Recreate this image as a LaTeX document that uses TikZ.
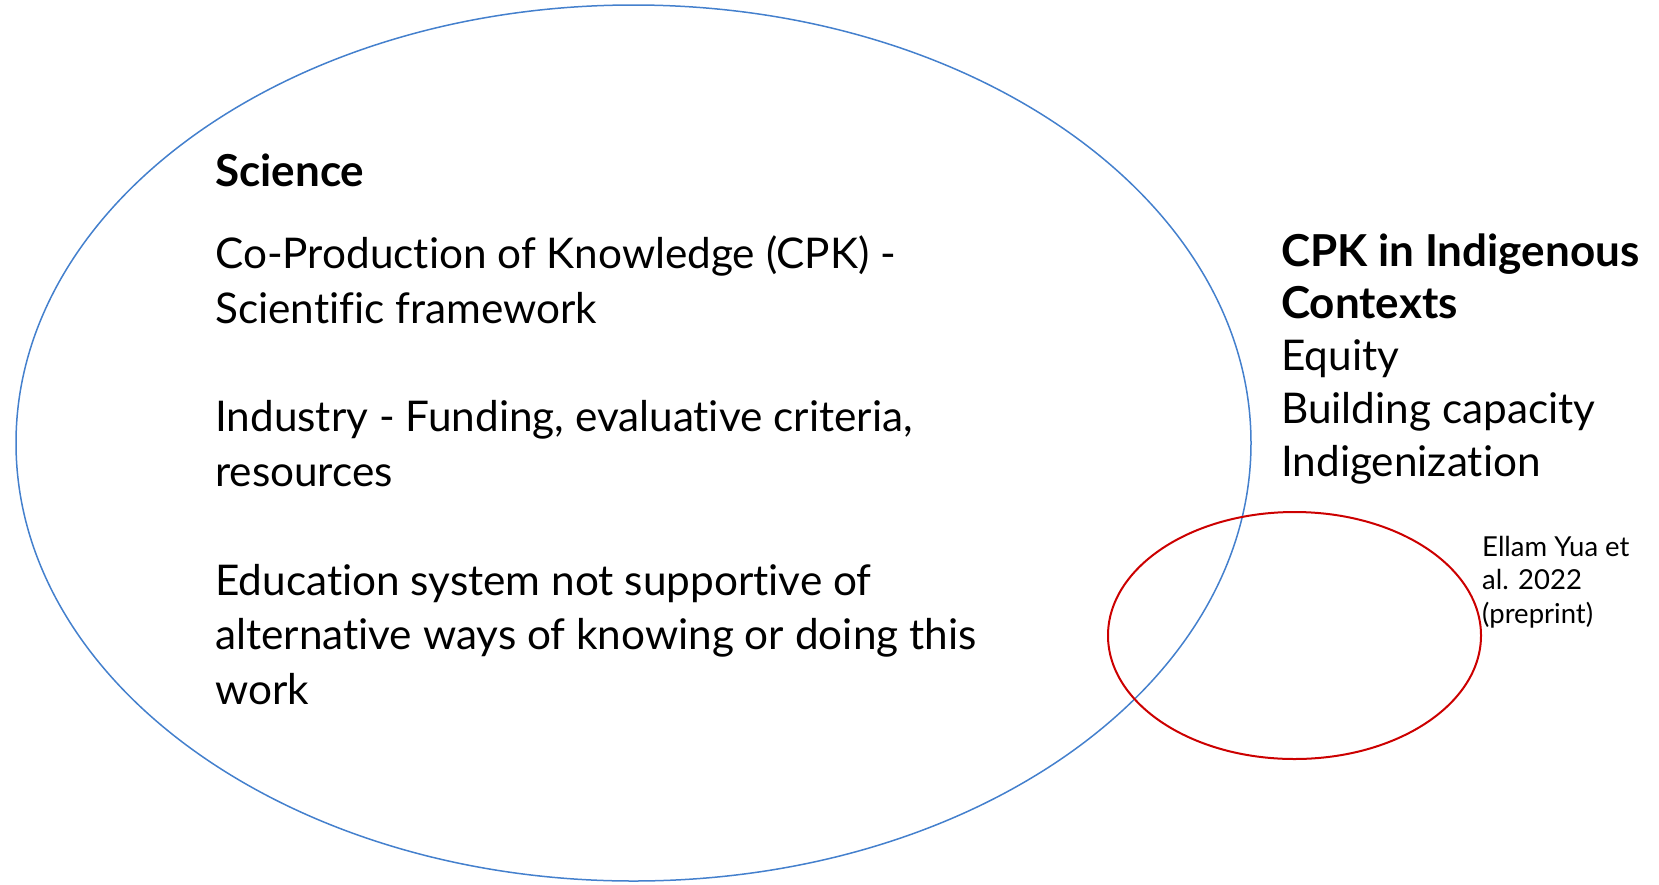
\documentclass[tikz,border=0pt]{standalone}
\usepackage{fontspec}
\setmainfont{Lato}[Ligatures=NoCommon]
\usetikzlibrary{positioning}
\definecolor{sciblue}{RGB}{68,128,205}
\definecolor{cpkred}{RGB}{204,0,0}

\begin{document}
\begin{tikzpicture}[x=1pt,y=-1pt,
venn/.style={draw, line width=1.5pt},
txt/.style={anchor=base west, align=left, inner sep=0pt, font=\fontsize{42.3}{54.5}\selectfont},
head/.style={txt, font=\fontsize{44}{52}\selectfont\bfseries},
cite/.style={anchor=base west, align=left, inner sep=0pt, font=\fontsize{27.5}{33.5}\selectfont}
]
\useasboundingbox (0,0) rectangle (1659,884);

% the two sets
\draw[venn, sciblue] (633.5,443) ellipse [x radius=617.5, y radius=438];
\draw[venn, cpkred, line width=2pt] (1294.5,635.5) ellipse [x radius=186.5, y radius=123.5];

% science side (base anchor sits on the last line)
\node[head] (sci) at (215,186) {Science};
\node[txt] (cpk) at (215,323) {Co-Production of Knowledge (CPK) -\\Scientific framework};
\node[txt] (ind) at (215,486) {Industry - Funding, evaluative criteria,\\resources};
\node[txt] (edu) at (215,704) {Education system not supportive of\\alternative ways of knowing or doing this\\work};

% indigenous side
\node[head] (ctx) at (1281,318) {CPK in Indigenous\\Contexts};
\node[txt, font=\fontsize{42.3}{53}\selectfont] (aims) at (1281,476) {Equity\\Building capacity\\Indigenization};

\node[cite] (ref) at (1482,623) {Ellam Yua et\\al. 2022\\(preprint)};
\end{tikzpicture}
\end{document}
